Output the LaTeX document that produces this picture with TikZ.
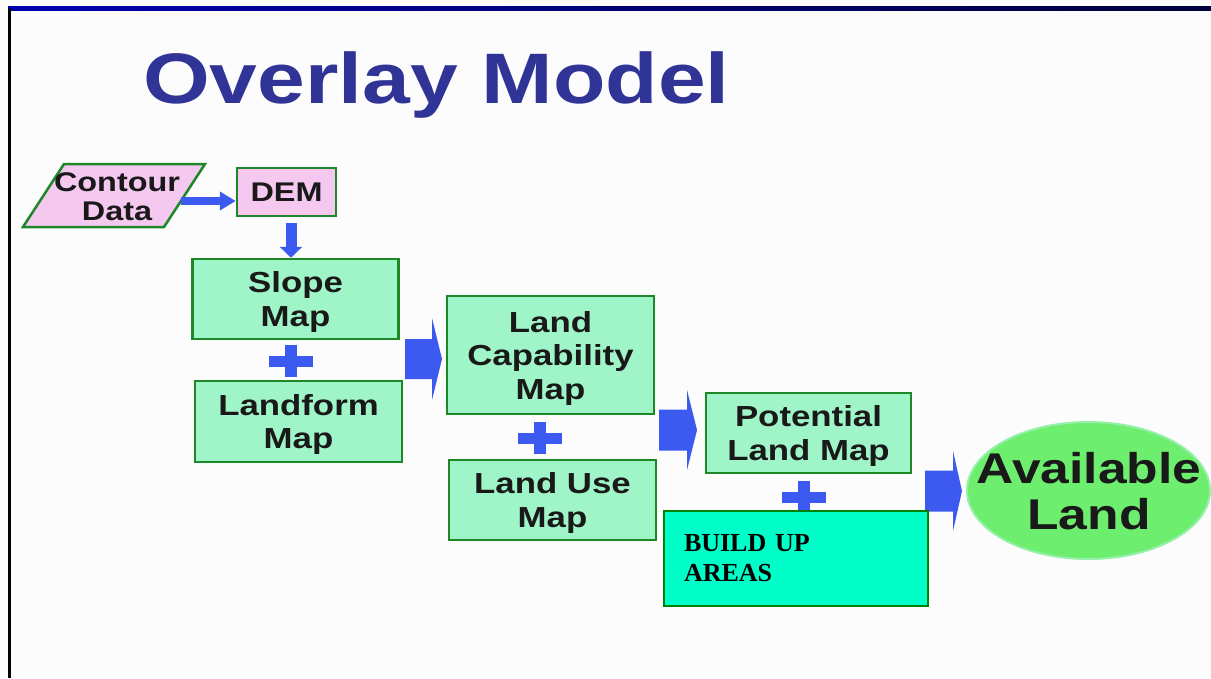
\documentclass[tikz,border=0pt]{standalone}
\usepackage{fontspec}
\usetikzlibrary{arrows.meta,shapes.geometric}
\newfontfamily\slidefont[FakeStretch=1.2,BoldFont={Liberation Sans Bold}]{Liberation Sans}
\newfontfamily\buildfont[BoldFont={Liberation Serif Bold}]{Liberation Serif}
\definecolor{mint}{RGB}{160,245,200}
\definecolor{boxgreen}{RGB}{30,135,40}
\definecolor{pinkfill}{RGB}{245,200,240}
\definecolor{arrowblue}{RGB}{60,90,240}
\definecolor{titleblue}{RGB}{48,52,150}
\definecolor{buildfill}{RGB}{0,255,200}
\definecolor{buildborder}{RGB}{0,128,0}
\definecolor{ellfill}{RGB}{110,238,110}
\definecolor{ellborder}{RGB}{150,240,170}
\newcommand{\blockarr}[6]{%
  \fill[arrowblue] (#1,#4-#5) -- (#2,#4-#5) -- (#2,#4-#6) -- (#3,#4) -- (#2,#4+#6) -- (#2,#4+#5) -- (#1,#4+#5) -- cycle;}
\newcommand{\plusmark}[2]{%
  \fill[arrowblue] (#1-22,#2-5.5) rectangle (#1+22,#2+5.5);
  \fill[arrowblue] (#1-6,#2-16) rectangle (#1+6,#2+16);}
\tikzset{
  mapbox/.style={draw=boxgreen, line width=2.5pt, fill=mint, align=center,
    font=\slidefont\bfseries\fontsize{29}{33.5}\selectfont, text=black!90, inner sep=0pt, text depth=0pt},
  pinkbox/.style={draw=boxgreen, line width=2.5pt, fill=pinkfill, align=center,
    font=\slidefont\bfseries\fontsize{27}{28}\selectfont, text=black!90, inner sep=0pt},
}
\begin{document}
\begin{tikzpicture}[x=1pt,y=-1pt]
\useasboundingbox (0,0) rectangle (1211,678);
\fill[white!99!black] (0,0) rectangle (1211,678);
% frame lines
\shade[left color={rgb,255:red,0;green,0;blue,175}, right color={rgb,255:red,0;green,0;blue,60}] (8,6) rectangle (1211,10);
\fill[black] (8,8) rectangle (11,678);
% title
\node[anchor=base west, inner sep=0pt, text=titleblue, font=\slidefont\bfseries\fontsize{71.5}{75}\selectfont] (title) at (143,103) {Overlay Model};
% contour data parallelogram
\filldraw[fill=pinkfill, draw=boxgreen, line width=2.5pt] (64,164) -- (205,164) -- (164,227) -- (23,227) -- cycle;
\node[align=center, inner sep=0pt, font=\slidefont\bfseries\fontsize{27}{29}\selectfont, text=black!90] (contour) at (117,197) {Contour\\Data};
\coordinate (contourR) at (181,201);
% DEM
\node[pinkbox, minimum width=99pt, minimum height=48pt] (dem) at (286.5,192) {DEM};
% map boxes
\node[mapbox, minimum width=206pt, minimum height=80pt] (slope) at (295.5,299) {Slope\\Map};
\node[mapbox, minimum width=207pt, minimum height=81pt] (landform) at (298.5,421.5) {Landform\\Map};
\node[mapbox, minimum width=207pt, minimum height=118pt] (capab) at (550.5,355) {Land\\Capability\\Map};
\node[mapbox, minimum width=207pt, minimum height=80pt] (landuse) at (552.5,500) {Land Use\\Map};
\node[mapbox, minimum width=205pt, minimum height=80pt] (potential) at (808.5,433) {Potential\\Land Map};
% small arrows
\draw[arrowblue, line width=8pt, -{Triangle[length=16pt,width=18pt]}] (contourR) -- (contourR -| dem.west);
\coordinate (demS) at ([xshift=4.5pt,yshift=-6pt]dem.south);
\draw[arrowblue, line width=11pt, -{Triangle[length=11pt,width=22pt]}] (demS) -- (demS |- slope.north);
% plus marks
\plusmark{291}{361}
\plusmark{540}{438}
\plusmark{804}{497}
% block arrows
\blockarr{405}{432}{442}{359}{20}{41}
\blockarr{659}{687}{697}{430}{20.5}{40}
\blockarr{925}{953}{962}{491}{20.5}{40}
% build up areas
\node[draw=buildborder, line width=2pt, fill=buildfill, minimum width=264pt, minimum height=95pt,
  text width=224pt, inner xsep=20pt, align=left, font=\buildfont\bfseries\fontsize{26}{30}\selectfont] (build) at (796,558.5) {BUILD UP\\AREAS};
% available land
\filldraw[draw=ellborder, line width=2pt, fill=ellfill] (1088.5,490.5) ellipse [x radius=121.5, y radius=68.5];
\node[inner sep=0pt, text depth=0pt, align=center, font=\slidefont\bfseries\fontsize{43}{46}\selectfont, text=black!90] (avail) at (1089,490.5) {Available\\Land};
\end{tikzpicture}
\end{document}
